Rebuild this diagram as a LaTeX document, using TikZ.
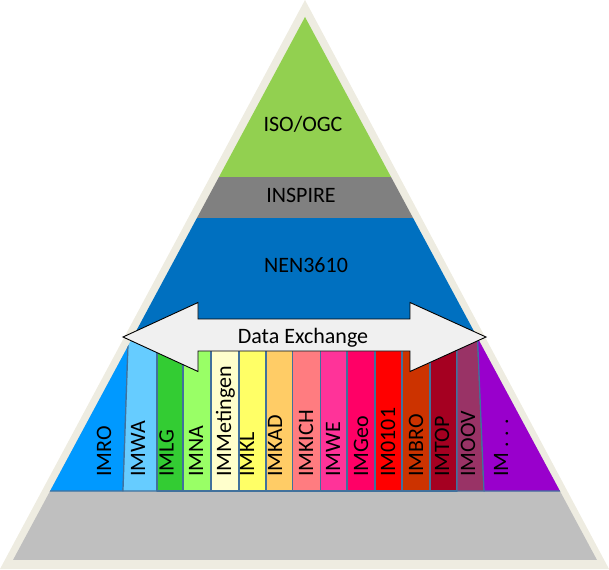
\documentclass[tikz,border=0pt]{standalone}
\usepackage{fontspec}
\newfontfamily\calfont{Carlito}
\definecolor{framebeige}{HTML}{EEECE1}
\definecolor{isogreen}{HTML}{92D050}
\definecolor{inspiregray}{HTML}{808080}
\definecolor{nenblue}{HTML}{0070C0}
\definecolor{basegray}{HTML}{BFBFBF}
\definecolor{colline}{HTML}{41719C}
\definecolor{xchgfill}{HTML}{F0F0F0}
\tikzset{
  bandtext/.style={font=\calfont\fontsize{22}{26}\selectfont, anchor=base, inner sep=0pt},
  imlabel/.style={font=\calfont\fontsize{22}{26}\selectfont, rotate=90, anchor=base west, inner sep=0pt},
  imcol/.style={draw=colline, line width=1.2pt, line join=round}
}

\begin{document}
\begin{tikzpicture}[x=1pt, y=-1pt]
  \useasboundingbox (0,0) rectangle (609,569);
  % beige frame of the pyramid
  \fill[framebeige] (0,569) -- (305,0) -- (609,569) -- cycle;
  \begin{scope}
    \clip (13,560) -- (305,17) -- (597,560) -- cycle;
    \fill[isogreen] (0,0) rectangle (609,177);
    \fill[inspiregray] (0,177) rectangle (609,218);
    \fill[nenblue] (0,218) rectangle (609,337);
    \fill[basegray] (0,337) rectangle (609,560);
    % the information models
    \foreach \xa/\xb/\xc/\xd/\col in {0/0/128.3/123/0099FF,
                                      128.3/123/157/157/66CCFF,
                                      157/157/183/183/33CC33,
                                      183/183/211/211/99FF66,
                                      211/211/239/239/FFFFCC,
                                      239/239/266/266/FFFF66,
                                      266/266/292.5/292.5/FFCC66,
                                      292.5/292.5/320.5/320.5/FF7C80,
                                      320.5/320.5/347/347/FF3399,
                                      347/347/375/375/FF0066,
                                      375/375/402/402/FF0000,
                                      402/402/430/430/CC3300,
                                      430/430/457/457/A50021,
                                      457/457/477.5/484/993366,
                                      477.5/484/609/609/9900CC} {
      \definecolor{imfill}{HTML}{\col}
      \draw[imcol, fill=imfill] (\xa,337) -- (\xc,337) -- (\xd,491) -- (\xb,491) -- cycle;
    }
  \end{scope}
  \foreach \x/\lbl [count=\i] in {104/IMRO, 138/IMWA, 166.5/IMLG, 196/IMNA,
                                  224/IMMetingen, 247/IMKL, 275/IMKAD, 306/IMKICH,
                                  333/IMWE, 361/IMGeo, 388/IM0101, 416/IMBRO,
                                  442/IMTOP, 468/IMOOV, 501/{IM . . .}} {
    \node[imlabel] (im\i) at (\x+7,477) {\lbl};
  }
  \node[bandtext] (iso) at (303,132) {ISO/OGC};
  \node[bandtext] (inspire) at (301,202) {INSPIRE};
  \node[bandtext] (nen) at (306,272) {NEN3610};
  % data exchange arrow
  \draw[fill=xchgfill, line width=0.9pt, line join=miter]
    (123,337) -- (198,302.5) -- (198,319) -- (410,319) -- (410,302.5) -- (486,337)
    -- (410,371.5) -- (410,351) -- (198,351) -- (198,371.5) -- cycle;
  \node[bandtext] (xchg) at (303,343.5) {Data Exchange};
\end{tikzpicture}
\end{document}
